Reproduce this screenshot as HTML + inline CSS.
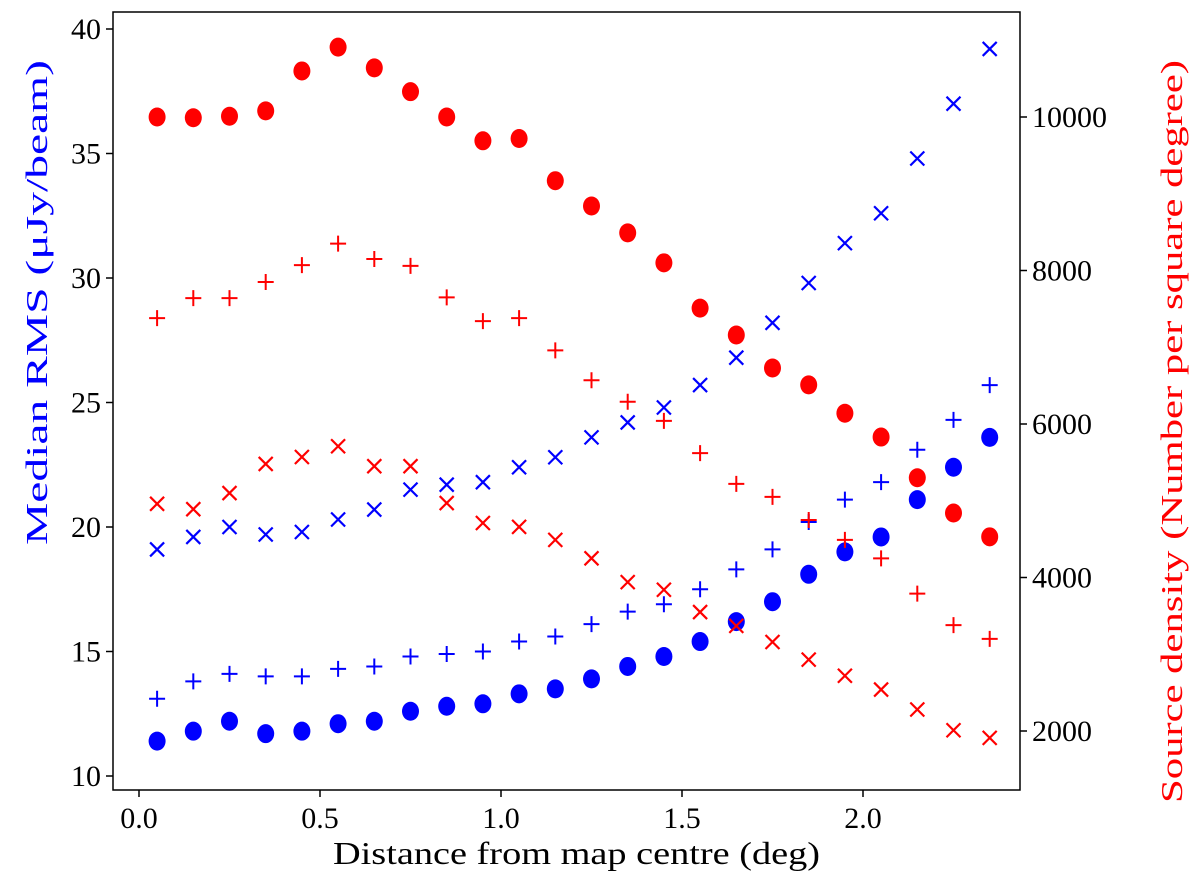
<!DOCTYPE html>
<html><head><meta charset="utf-8"><style>
body{margin:0;background:#fff}
svg text{font-family:"Liberation Serif",serif}
</style></head><body>
<svg id="c" width="1200" height="883"></svg>
<script>
const xs=[0.05,0.15,0.25,0.35,0.45,0.55,0.65,0.75,0.85,0.95,1.05,1.15,1.25,1.35,1.45,1.55,1.65,1.75,1.85,1.95,2.05,2.15,2.25,2.35];
const blueDots=[11.4,11.8,12.2,11.7,11.8,12.1,12.2,12.6,12.8,12.9,13.3,13.5,13.9,14.4,14.8,15.4,16.2,17.0,18.1,19.0,19.6,21.1,22.4,23.6];
const bluePlus=[13.1,13.8,14.1,14.0,14.0,14.3,14.4,14.8,14.9,15.0,15.4,15.6,16.1,16.6,16.9,17.5,18.3,19.1,20.2,21.1,21.8,23.1,24.3,25.7];
const blueCross=[19.1,19.6,20.0,19.7,19.8,20.3,20.7,21.5,21.7,21.8,22.4,22.8,23.6,24.2,24.8,25.7,26.8,28.2,29.8,31.4,32.6,34.8,37.0,39.2];
const redDots=[10000,9990,10010,10080,10600,10910,10640,10330,10000,9690,9720,9170,8840,8490,8100,7510,7160,6730,6510,6140,5830,5300,4840,4530];
const redPlus=[7380,7640,7640,7850,8070,8350,8150,8060,7650,7340,7380,6960,6570,6290,6040,5620,5220,5050,4750,4490,4250,3790,3380,3200];
const redCross=[4960,4890,5100,5480,5570,5710,5450,5450,4970,4710,4660,4490,4250,3940,3840,3550,3370,3160,2930,2720,2540,2280,2010,1910];
const xTicks=[0,0.5,1.0,1.5,2.0];
const xTickLabels=["0.0","0.5","1.0","1.5","2.0"];
const yLTicks=[10,15,20,25,30,35,40];
const yRTicks=[2000,4000,6000,8000,10000];

const svg=document.getElementById('c');
const NS='http://www.w3.org/2000/svg';
const L=113,R=1020,T=12,B=790;
const X=v=>139+v*362;
const YL=v=>776-(v-10)*(747/30);
const YR=v=>731-(v-2000)*(614/8000);
function mk(t,a,p){const e=document.createElementNS(NS,t);for(const k in a)e.setAttribute(k,a[k]);(p||svg).appendChild(e);return e;}
function txt(s,a){const e=mk('text',a);e.textContent=s;return e;}

function series(vals,Y,color,kind,name){
  const g=mk('g',{});
  
  
  vals.forEach((v,i)=>{
    const cx=X(xs[i]),cy=Y(v);let e;
    if(kind==='dot'){e=mk('ellipse',{cx:cx,cy:cy,rx:8.5,ry:9.5,fill:color},g);}
    else if(kind==='plus'){e=mk('path',{d:`M${cx-8} ${cy}H${cx+8}M${cx} ${cy-8}V${cy+8}`,stroke:color,'stroke-width':2,fill:'none'},g);}
    else{e=mk('path',{d:`M${cx-7} ${cy-7}L${cx+7} ${cy+7}M${cx-7} ${cy+7}L${cx+7} ${cy-7}`,stroke:color,'stroke-width':2.2,fill:'none'},g);}
    
    
  });
}
series(blueDots,YL,'#0000ff','dot','blue-dots-series');
series(bluePlus,YL,'#0000ff','plus','blue-plus-series');
series(blueCross,YL,'#0000ff','cross','blue-cross-series');
series(redDots,YR,'#ff0000','dot','red-dots-series');
series(redPlus,YR,'#ff0000','plus','red-plus-series');
series(redCross,YR,'#ff0000','cross','red-cross-series');

const frame=mk('rect',{x:L,y:T,width:R-L,height:B-T,fill:'none',stroke:'#000','stroke-width':1.5});



xTicks.forEach((v,i)=>{
  const t=mk('line',{x1:X(v),x2:X(v),y1:B,y2:B+7,stroke:'#000','stroke-width':1.5});
  
  
  const l=txt(xTickLabels[i],{x:X(v),y:B+38,'text-anchor':'middle','font-size':30});
  
  
});
yLTicks.forEach(v=>{
  const t=mk('line',{x1:L-7,x2:L,y1:YL(v),y2:YL(v),stroke:'#000','stroke-width':1.5});
  
  
  const l=txt(String(v),{x:L-12,y:YL(v)+10,'text-anchor':'end','font-size':30});
  
  
});
yRTicks.forEach(v=>{
  const t=mk('line',{x1:R,x2:R+7,y1:YR(v),y2:YR(v),stroke:'#000','stroke-width':1.5});
  
  
  const l=txt(String(v),{x:R+12,y:YR(v)+10,'text-anchor':'start','font-size':30});
  
  
});
const xl=txt('Distance from map centre (deg)',{x:333,y:864,'font-size':32,textLength:487,lengthAdjust:'spacingAndGlyphs'});


const yl=txt('Median RMS (\u03bcJy/beam)',{x:-545,y:0,'font-size':31,fill:'#0000ff',textLength:485,lengthAdjust:'spacingAndGlyphs',transform:'translate(47,0) rotate(-90)'});


const yr=txt('Source density (Number per square degree)',{x:-803,y:0,'font-size':31,fill:'#ff0000',textLength:743,lengthAdjust:'spacingAndGlyphs',transform:'translate(1182,0) rotate(-90)'});


</script>
</body></html>
